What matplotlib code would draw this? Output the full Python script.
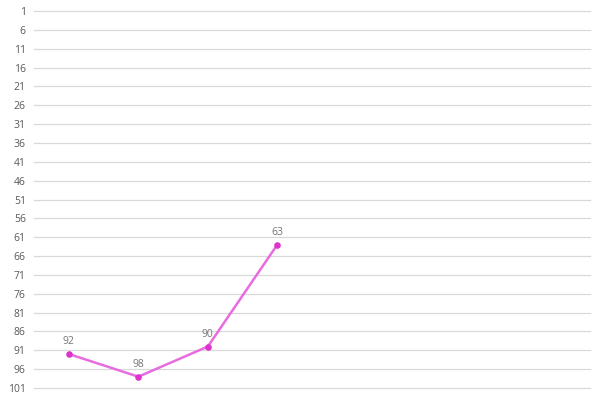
import matplotlib
matplotlib.use("Agg")
import matplotlib.pyplot as plt
import numpy as np

categories = ["", "", "", "", "", "", "", ""]
values = [92, 98, 90, 63]
y_ticks = list(range(1, 102, 5))

plt.rcParams['font.family'] = ['Open Sans', 'DejaVu Sans']

fig = plt.figure(figsize=(6, 4), dpi=100)
ax = fig.add_axes([0.057, 0.03, 0.926, 0.9425])

x = np.arange(len(values))
ax.plot(x, values, color="#E86CE0", lw=1.8, zorder=3)
ax.scatter(x, values, s=14, color="#DD33CC", zorder=4)
for xi, v in zip(x, values):
    ax.annotate(str(v), (xi, v), xytext=(0, 5), textcoords="offset points",
                ha="center", va="bottom", fontsize=7.5, color="#757575")

ax.set_xlim(-0.5, len(categories) - 0.5)
ax.set_ylim(101, 1)
ax.set_yticks(y_ticks)
ax.set_yticklabels([str(t) for t in y_ticks], fontsize=7.5, color="#595959")
ax.set_xticks([])
ax.tick_params(axis="y", length=0, pad=6)
ax.grid(axis="y", color="#D9D9D9", lw=0.9)
for gl in ax.get_ygridlines():
    gl.set_clip_on(False)
ax.set_axisbelow(True)
for s in ax.spines.values():
    s.set_visible(False)

fig.savefig("out.png", dpi=100)
